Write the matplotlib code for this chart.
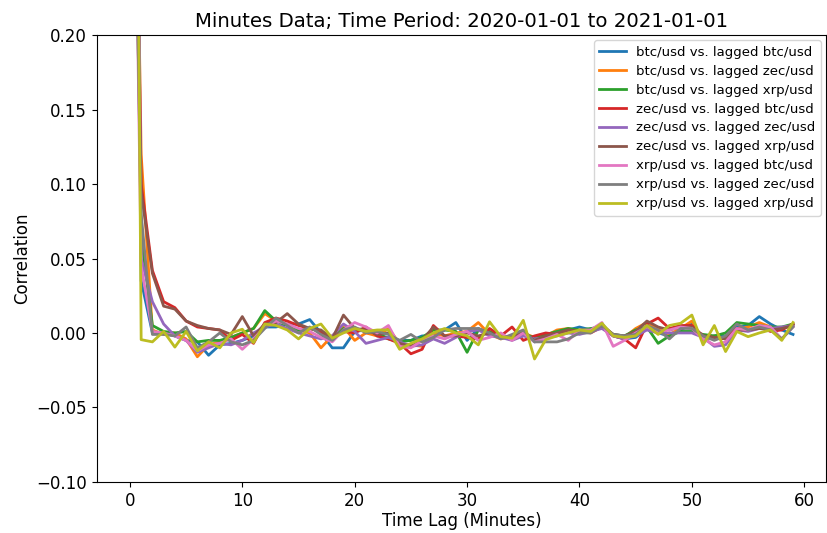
import matplotlib
matplotlib.use("Agg")
import matplotlib.pyplot as plt
import numpy as np

lags = list(range(60))

labels = [
    "btc/usd vs. lagged btc/usd",
    "btc/usd vs. lagged zec/usd",
    "btc/usd vs. lagged xrp/usd",
    "zec/usd vs. lagged btc/usd",
    "zec/usd vs. lagged zec/usd",
    "zec/usd vs. lagged xrp/usd",
    "xrp/usd vs. lagged btc/usd",
    "xrp/usd vs. lagged zec/usd",
    "xrp/usd vs. lagged xrp/usd",
]

btc_btc = [1.0, 0.035, 0.0, 0.0, -0.002, -0.005, -0.006, -0.015, -0.008, -0.007,
           -0.005, -0.002, 0.004, 0.004, 0.006, 0.006, 0.009, 0.0, -0.01, -0.01,
           0.001, 0.002, -0.002, -0.003, -0.005, -0.005, -0.002, -0.002, 0.002, 0.007,
           -0.005, 0.003, 0.0, -0.003, -0.002, 0.001, -0.006, -0.003, 0.0, 0.002,
           0.004, 0.002, 0.006, -0.002, -0.004, -0.003, 0.003, 0.0, -0.002, 0.002,
           0.006, -0.004, -0.002, -0.002, 0.004, 0.005, 0.011, 0.006, 0.002, -0.001]
btc_zec = [0.6, 0.12, 0.002, -0.001, 0.0, -0.004, -0.016, -0.008, -0.006, -0.003,
           0.0, 0.003, 0.013, 0.008, 0.006, 0.002, 0.0, -0.01, -0.002, 0.004,
           -0.005, 0.0, -0.002, 0.003, -0.007, -0.008, -0.009, 0.0, -0.002, 0.0,
           0.001, 0.007, -0.001, -0.004, -0.002, 0.0, -0.003, -0.002, 0.002, 0.003,
           0.001, 0.002, 0.005, -0.001, -0.003, 0.003, 0.007, 0.003, -0.001, 0.003,
           0.008, -0.005, -0.002, -0.004, 0.003, 0.004, 0.007, 0.004, 0.003, 0.006]
btc_xrp = [0.55, 0.065, 0.005, 0.001, 0.0, 0.001, -0.006, -0.005, -0.005, -0.003,
           0.0, 0.003, 0.015, 0.008, 0.005, 0.002, 0.003, 0.001, -0.004, 0.003,
           0.002, 0.003, 0.0, -0.004, -0.006, -0.005, -0.003, 0.002, 0.002, 0.001,
           -0.013, 0.002, 0.001, -0.003, -0.004, -0.001, -0.003, -0.001, 0.001, 0.003,
           0.002, 0.003, 0.004, -0.001, -0.002, 0.002, 0.004, -0.007, -0.002, 0.001,
           0.001, -0.001, -0.002, 0.0, 0.007, 0.006, 0.005, 0.004, 0.004, 0.006]
zec_btc = [0.6, 0.10, 0.042, 0.021, 0.017, 0.008, 0.004, 0.003, 0.002, -0.005,
           -0.001, -0.007, 0.007, 0.01, 0.008, 0.005, 0.003, 0.001, -0.003, 0.001,
           0.0, 0.004, -0.002, -0.004, -0.007, -0.014, -0.011, 0.005, -0.002, -0.002,
           -0.003, -0.004, 0.003, -0.002, 0.004, -0.005, -0.002, 0.0, -0.001, 0.002,
           0.001, 0.0, 0.004, -0.002, -0.004, -0.01, 0.006, 0.01, 0.003, 0.005,
           0.005, -0.002, -0.003, -0.004, 0.003, 0.002, 0.004, 0.001, 0.002, 0.006]
zec_zec = [1.0, 0.05, 0.021, 0.006, -0.002, -0.005, -0.013, -0.01, -0.007, -0.008,
           -0.005, 0.0, 0.004, 0.006, 0.003, 0.0, -0.002, -0.004, -0.002, 0.006,
           0.001, -0.007, -0.005, -0.003, -0.006, -0.009, -0.008, -0.004, -0.007, -0.003,
           0.001, 0.002, -0.002, -0.003, -0.005, -0.002, -0.004, -0.003, -0.002, 0.0,
           -0.001, 0.001, 0.003, -0.002, -0.004, -0.002, 0.002, 0.0, 0.0, 0.0,
           0.0, -0.003, -0.009, -0.008, 0.002, 0.001, 0.003, 0.003, 0.004, 0.005]
zec_xrp = [0.5, 0.095, 0.04, 0.018, 0.016, 0.008, 0.005, 0.003, 0.002, -0.001,
           0.011, -0.002, 0.006, 0.007, 0.013, 0.006, 0.003, 0.002, -0.004, 0.012,
           0.003, 0.002, -0.001, 0.0, -0.007, -0.009, -0.005, 0.004, -0.002, -0.002,
           0.0, -0.002, 0.0, -0.003, -0.002, 0.0, -0.005, -0.002, 0.0, 0.002,
           0.001, 0.001, 0.005, -0.001, -0.002, 0.001, 0.008, 0.004, 0.002, 0.004,
           0.004, -0.002, -0.003, -0.004, 0.002, 0.002, 0.003, 0.002, 0.003, 0.005]
xrp_btc = [0.55, 0.045, 0.001, 0.0, -0.002, -0.005, -0.012, -0.008, -0.007, -0.004,
           -0.011, -0.004, 0.004, 0.008, 0.006, 0.003, 0.001, -0.003, -0.006, 0.002,
           0.007, 0.004, 0.0, 0.005, -0.009, -0.01, -0.005, -0.002, -0.004, -0.001,
           0.001, -0.005, -0.003, 0.0, -0.005, 0.0, -0.006, -0.004, -0.001, -0.005,
           0.002, 0.002, 0.007, -0.009, -0.005, 0.0, 0.004, 0.001, 0.002, 0.004,
           0.003, -0.004, -0.008, -0.006, 0.003, 0.002, 0.005, 0.004, -0.004, 0.004]
xrp_zec = [0.5, 0.08, -0.001, -0.001, -0.002, 0.004, -0.01, -0.006, 0.0, -0.006,
           -0.008, -0.005, 0.003, 0.01, 0.005, 0.0, 0.004, -0.001, -0.005, 0.002,
           0.004, 0.0, 0.001, -0.001, -0.005, -0.001, -0.006, -0.003, 0.002, 0.003,
           0.003, 0.003, 0.0, -0.004, -0.001, 0.002, -0.006, -0.006, -0.006, -0.004,
           0.0, 0.0, 0.005, -0.001, -0.002, -0.001, 0.005, 0.002, -0.004, 0.003,
           0.003, -0.002, -0.005, -0.002, 0.006, 0.002, 0.004, 0.002, -0.004, 0.004]
xrp_xrp = [1.0, -0.0045, -0.006, 0.001, -0.0095, 0.001, -0.012, -0.006, -0.01, 0.0,
           0.0025, -0.0065, 0.006, 0.005, 0.002, -0.004, 0.003, 0.006, -0.0035, 0.0,
           0.003, 0.001, 0.002, 0.002, -0.011, -0.007, -0.004, 0.0, 0.003, 0.0,
           -0.002, -0.008, 0.0075, -0.0025, -0.0035, 0.0085, -0.0175, -0.0045, -0.002, 0.0,
           0.002, 0.001, 0.0065, -0.002, -0.003, -0.002, 0.005, -0.001, 0.005, 0.0065,
           0.012, -0.008, 0.005, -0.0125, 0.001, -0.0025, 0.0, 0.002, -0.005, 0.007]

series = [btc_btc, btc_zec, btc_xrp, zec_btc, zec_zec, zec_xrp, xrp_btc, xrp_zec, xrp_xrp]

fig = plt.figure(figsize=(8.27, 5.33), dpi=100)
ax = fig.add_axes([0.117, 0.096, 0.882, 0.838])
for s, lab in zip(series, labels):
    ax.plot(lags, s, label=lab, linewidth=2)

ax.set_ylim(-0.10, 0.20)
ax.set_yticks([-0.10, -0.05, 0.0, 0.05, 0.10, 0.15, 0.20])
ax.tick_params(labelsize=12)
ax.set_xlabel("Time Lag (Minutes)", fontsize=12, labelpad=2)
ax.set_ylabel("Correlation", fontsize=12)
ax.set_title("Minutes Data; Time Period: 2020-01-01 to 2021-01-01", fontsize=14.2, pad=6)
ax.legend(loc="upper right", fontsize=9.5, labelspacing=0.45, borderaxespad=0.4)
fig.savefig("out.png", dpi=100)
